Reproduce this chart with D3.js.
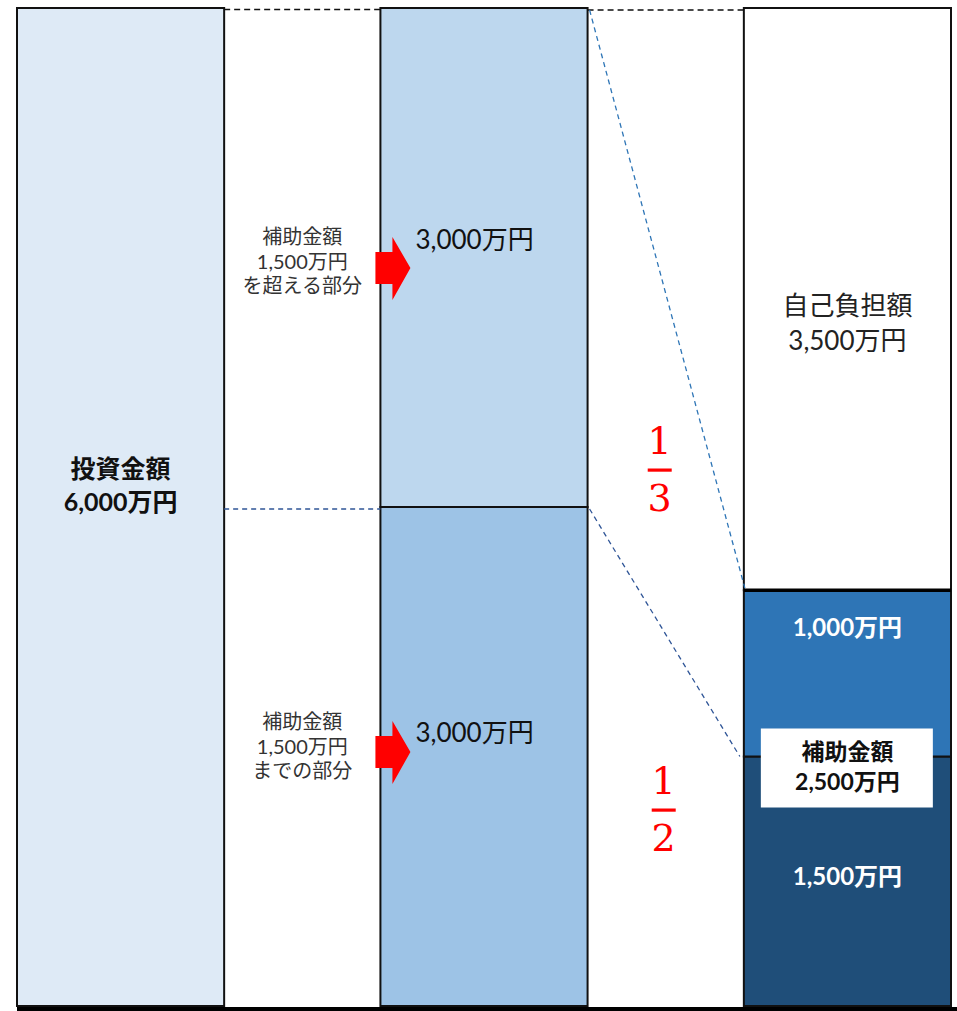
<!DOCTYPE html>
<html><head><meta charset="utf-8">
<script src="https://cdn.jsdelivr.net/npm/d3@7"></script>
<style>html,body{margin:0;padding:0;background:#fff;}</style>
</head><body>
<svg id="c" width="957" height="1011"></svg>
<script>
// ---- data ----
const columns = ["investment", "tiers", "result"];
const investmentTotal = 6000;
const investmentLabel = ["投資金額", "6,000万円"];
const tierValues = [3000, 3000];            // bottom (≤1,500万円 subsidy part), top (over part)
const tierLabels = ["3,000万円", "3,000万円"];
const tierNotes = [["補助金額", "1,500万円", "までの部分"], ["補助金額", "1,500万円", "を超える部分"]];
const tierRates = [["1", "2"], ["1", "3"]];
const resultValues = [1500, 1000, 3500];    // bottom → top
const resultLabels = [["1,500万円"], ["1,000万円"], ["自己負担額", "3,500万円"]];
const subsidyTotalLabel = ["補助金額", "2,500万円"];

const svg = d3.select("#c");
const FONT = "Lato, 'Noto Sans CJK JP', sans-serif";

const x = d3.scaleBand().domain(columns).range([17, 951]).paddingInner(0.43);
const y = d3.scaleLinear().domain([0, investmentTotal]).range([1006, 8]);
const bw = x.bandwidth();

function stack(vals){ let acc=0; return vals.map(v=>{const s={y0:acc,y1:acc+v,v}; acc+=v; return s;}); }

// investment bar
svg.append("rect").attr("x", x("investment")).attr("y", y(investmentTotal))
  .attr("width", bw).attr("height", y(0)-y(investmentTotal))
  .attr("fill", "#DEEAF6").attr("stroke", "#111").attr("stroke-width", 2);
svg.append("text").attr("text-anchor","middle").attr("font-family",FONT).attr("font-weight","bold").attr("font-size",25).attr("fill","#111")
  .selectAll("tspan").data(investmentLabel).join("tspan")
  .attr("x", x("investment")+bw/2).attr("y",(d,i)=> y(investmentTotal/2) - 29 + i*33).text(d=>d);

// tiers bar
const tierStack = stack(tierValues);
const tierFill = ["#9DC3E6", "#BDD7EE"];
svg.selectAll(".tier").data(tierStack).join("rect")
  .attr("x", x("tiers")).attr("y", d=>y(d.y1)).attr("width", bw).attr("height", d=>y(d.y0)-y(d.y1))
  .attr("fill",(d,i)=>tierFill[i]).attr("stroke","#111").attr("stroke-width",2);

// result bar
const resStack = stack(resultValues);
const resFill = ["#1F4E79", "#2E75B6", "#FFFFFF"];
svg.selectAll(".res").data(resStack).join("rect")
  .attr("x", x("result")).attr("y", d=>y(d.y1)).attr("width", bw).attr("height", d=>y(d.y0)-y(d.y1))
  .attr("fill",(d,i)=>resFill[i]).attr("stroke","#111").attr("stroke-width",2);
svg.append("line").attr("x1", x("result")).attr("x2", x("result")+bw)
  .attr("y1", y(resultValues[0]+resultValues[1])).attr("y2", y(resultValues[0]+resultValues[1]))
  .attr("stroke","#000").attr("stroke-width",3.5);

// dashed connectors
const invR = x("investment")+bw, tierL = x("tiers"), tierR = x("tiers")+bw, resL = x("result");
svg.append("line").attr("x1",invR).attr("x2",tierL).attr("y1",y(investmentTotal)+1.5).attr("y2",y(investmentTotal)+1.5)
  .attr("stroke","#111").attr("stroke-width",1.5).attr("stroke-dasharray","6,4");
svg.append("line").attr("x1",invR).attr("x2",tierL).attr("y1",y(tierValues[0])+2).attr("y2",y(tierValues[0])+2)
  .attr("stroke","#2F5597").attr("stroke-width",1.3).attr("stroke-dasharray","5,4");
svg.append("line").attr("x1",tierR).attr("x2",resL).attr("y1",y(investmentTotal)+2).attr("y2",y(investmentTotal)+2)
  .attr("stroke","#111").attr("stroke-width",1.5).attr("stroke-dasharray","6,4");
svg.append("line").attr("x1",tierR+2).attr("x2",resL+1).attr("y1",y(investmentTotal)+2).attr("y2",y(resultValues[0]+resultValues[1])-2)
  .attr("stroke","#2E75B6").attr("stroke-width",1.3).attr("stroke-dasharray","5,4");
svg.append("line").attr("x1",tierR+2).attr("x2",resL-4).attr("y1",y(tierValues[0])+2).attr("y2",y(resultValues[0]))
  .attr("stroke","#2F5597").attr("stroke-width",1.3).attr("stroke-dasharray","5,4");

// tier texts, notes and arrows
const gapMid1 = (invR + tierL)/2;
const labelY = [742, 249];     // baselines of the 3,000万円 labels (bottom, top)
const noteY = [729, 244];      // first-line baselines of notes
const arrowY = [752, 268];
tierStack.forEach((s,i)=>{
  svg.append("text").attr("x", tierL+35).attr("y", labelY[i]).attr("font-family",FONT).attr("font-size",26).attr("fill","#111")
    .text(tierLabels[i]);
  const g = svg.append("text").attr("text-anchor","middle").attr("font-family",FONT).attr("font-size",20).attr("fill","#333");
  g.selectAll("tspan").data(tierNotes[i]).join("tspan").attr("x",gapMid1).attr("y",(d,k)=>noteY[i]+k*24.5).text(d=>d);
  const ty = arrowY[i];
  svg.append("path").attr("fill","#FF0000")
    .attr("d", `M${tierL-5},${ty-16} H${tierL+12} V${ty-31} L${tierL+30},${ty} L${tierL+12},${ty+32} V${ty+16} H${tierL-5} Z`);
});

// fractions
const gapMid2 = (tierR + resL)/2;
const fracY = [810, 470];
tierRates.forEach((r,i)=>{
  const fx = gapMid2 + (i===0 ? -2 : -6);
  const g = svg.append("g").attr("fill","#FF0000").attr("font-family","'DejaVu Serif', 'Liberation Serif', serif").attr("font-size",38);
  g.append("text").attr("x",fx).attr("y",fracY[i]-16).attr("text-anchor","middle").text(r[0]);
  g.append("rect").attr("x",fx-12).attr("y",fracY[i]-1.5).attr("width",24).attr("height",3.2);
  g.append("text").attr("x",fx).attr("y",fracY[i]+41).attr("text-anchor","middle").text(r[1]);
});

// result labels
const resMid = resL + bw/2;
const resLabelY = [876, 627, 323];
resStack.forEach((s,i)=>{
  const t = svg.append("text").attr("text-anchor","middle").attr("font-family",FONT)
    .attr("font-size", i===2 ? 26 : 24).attr("font-weight", i===2 ? "normal" : "bold")
    .attr("fill", i===2 ? "#222" : "#fff");
  const lines = resultLabels[i];
  t.selectAll("tspan").data(lines).join("tspan").attr("x",resMid)
    .attr("y",(d,k)=> resLabelY[i] + 9 + (k-(lines.length-1)/2)*35).text(d=>d);
});

// subsidy total box
const boxY = y(resultValues[0]);
svg.append("rect").attr("x",resL+17).attr("y",boxY-28).attr("width",172).attr("height",79).attr("fill","#fff");
svg.append("text").attr("text-anchor","middle").attr("font-family",FONT).attr("font-weight","bold").attr("font-size",23).attr("fill","#111")
  .selectAll("tspan").data(subsidyTotalLabel).join("tspan").attr("x",resMid)
  .attr("y",(d,k)=> boxY + 3 + k*30).text(d=>d);

// baseline
svg.append("line").attr("x1",17).attr("x2",957).attr("y1",1009).attr("y2",1009).attr("stroke","#000").attr("stroke-width",4);
</script>
</body></html>
